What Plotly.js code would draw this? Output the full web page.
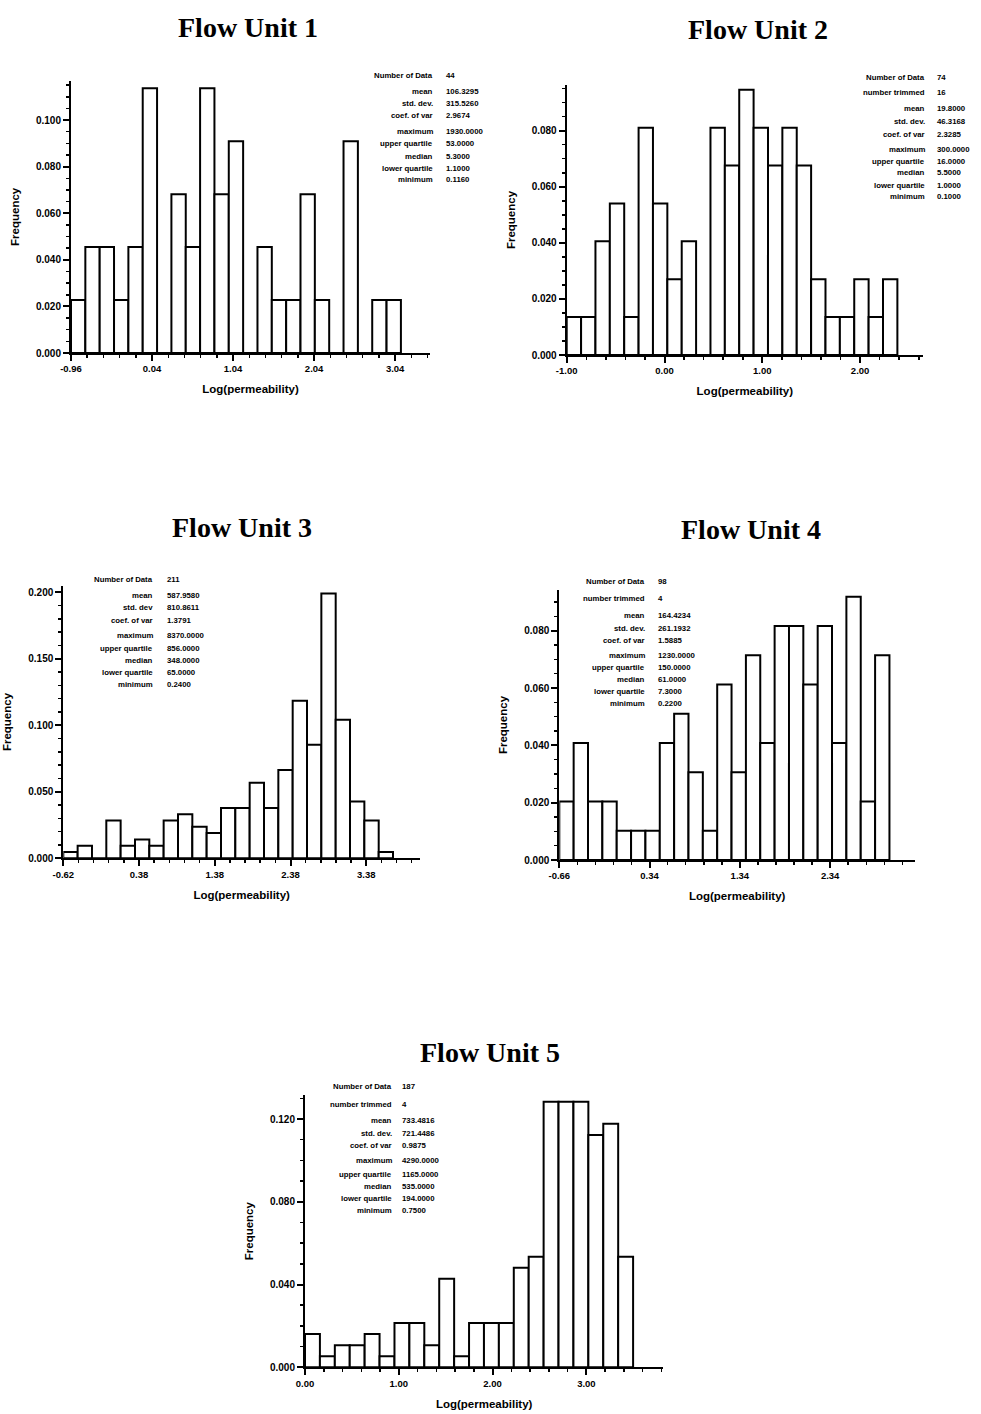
<!DOCTYPE html>
<html>
<head>
<meta charset="utf-8">
<script src="https://cdn.plot.ly/plotly-3.0.1.min.js"></script>
<style>
  html, body { margin: 0; padding: 0; background: #fff; }
  #chart { width: 981px; height: 1414px; }
</style>
</head>
<body>
<div id="chart"></div>
<script>
// ---- Data: histogram counts of log10(permeability) per flow unit ----
const unitNames = ['Flow Unit 1', 'Flow Unit 2', 'Flow Unit 3', 'Flow Unit 4', 'Flow Unit 5'];

const fu1Counts = [1, 2, 2, 1, 2, 5, 0, 3, 2, 5, 3, 4, 0, 2, 1, 1, 3, 1, 0, 4, 0, 1, 1];
const fu2Counts = [1, 1, 3, 4, 1, 6, 4, 2, 3, 0, 6, 5, 7, 6, 5, 6, 5, 2, 1, 1, 2, 1, 2];
const fu3Counts = [1, 2, 0, 6, 2, 3, 2, 6, 7, 5, 4, 8, 8, 12, 8, 14, 25, 18, 42, 22, 9, 6, 1];
const fu4Counts = [2, 4, 2, 2, 1, 1, 1, 4, 5, 3, 1, 6, 3, 7, 4, 8, 8, 6, 8, 4, 9, 2, 7];
const fu5Counts = [3, 1, 2, 2, 3, 1, 4, 4, 2, 8, 1, 4, 4, 4, 9, 10, 24, 24, 24, 21, 22, 10];

// left edge of the first class and class width (log units)
const binStart = [-0.96, -1.00, -0.62, -0.66, 0.00];
const binWidth = [0.177, 0.147, 0.1893, 0.159, 0.159];
const numberOfData = [44, 74, 211, 98, 187];

// labelled x ticks of each panel
const xTickVals1 = [-0.96, 0.04, 1.04, 2.04, 3.04];
const xTickVals2 = [-1.00, 0.00, 1.00, 2.00];
const xTickVals3 = [-0.62, 0.38, 1.38, 2.38, 3.38];
const xTickVals4 = [-0.66, 0.34, 1.34, 2.34];
const xTickVals5 = [0.00, 1.00, 2.00, 3.00];

// summary statistics printed next to each histogram
const statLabels1 = ['Number of Data', 'mean', 'std. dev.', 'coef. of var', 'maximum', 'upper quartile', 'median', 'lower quartile', 'minimum'];
const statValues1 = ['44', '106.3295', '315.5260', '2.9674', '1930.0000', '53.0000', '5.3000', '1.1000', '0.1160'];
const statLabels2 = ['Number of Data', 'number trimmed', 'mean', 'std. dev.', 'coef. of var', 'maximum', 'upper quartile', 'median', 'lower quartile', 'minimum'];
const statValues2 = ['74', '16', '19.8000', '46.3168', '2.3285', '300.0000', '16.0000', '5.5000', '1.0000', '0.1000'];
const statLabels3 = ['Number of Data', 'mean', 'std. dev', 'coef. of var', 'maximum', 'upper quartile', 'median', 'lower quartile', 'minimum'];
const statValues3 = ['211', '587.9580', '810.8611', '1.3791', '8370.0000', '856.0000', '348.0000', '65.0000', '0.2400'];
const statLabels4 = ['Number of Data', 'number trimmed', 'mean', 'std. dev.', 'coef. of var', 'maximum', 'upper quartile', 'median', 'lower quartile', 'minimum'];
const statValues4 = ['98', '4', '164.4234', '261.1932', '1.5885', '1230.0000', '150.0000', '61.0000', '7.3000', '0.2200'];
const statLabels5 = ['Number of Data', 'number trimmed', 'mean', 'std. dev.', 'coef. of var', 'maximum', 'upper quartile', 'median', 'lower quartile', 'minimum'];
const statValues5 = ['187', '4', '733.4816', '721.4486', '0.9875', '4290.0000', '1165.0000', '535.0000', '194.0000', '0.7500'];

// ---- Layout geometry (pixels in a 981 x 1414 page) ----
const W = 981, H = 1414;
const px = v => v / W;
const py = v => 1 - v / H;

const panels = [
  { counts: fu1Counts, labels: statLabels1, values: statValues1, xTicks: xTickVals1,
    xPix: [71, 430], yPix: [353, 80.7], xMax: 3.47, yMax: 0.1169, yDtick: 0.02, yMinor: 0.005,
    title: [248, 27], statRight: 435, statLeft: 444,
    statRows: [75, 91, 103, 116, 131, 143, 156, 168, 180] },
  { counts: fu2Counts, labels: statLabels2, values: statValues2, xTicks: xTickVals2,
    xPix: [566.7, 923], yPix: [355, 85], xMax: 2.643, yMax: 0.0963, yDtick: 0.02, yMinor: 0.005,
    title: [758, 30], statRight: 927, statLeft: 935,
    statRows: [77, 92, 109, 121.5, 134, 149, 161, 173, 185, 197] },
  { counts: fu3Counts, labels: statLabels3, values: statValues3, xTicks: xTickVals3,
    xPix: [63.3, 420], yPix: [858.3, 585.7], xMax: 4.09, yMax: 0.205, yDtick: 0.05, yMinor: 0.01,
    title: [242, 527], statRight: 155, statLeft: 165,
    statRows: [580, 595.7, 607.7, 620, 635.7, 648, 660, 672, 684] },
  { counts: fu4Counts, labels: statLabels4, values: statValues4, xTicks: xTickVals4,
    xPix: [559.3, 915], yPix: [860, 590], xMax: 3.28, yMax: 0.0942, yDtick: 0.02, yMinor: 0.005,
    title: [751, 530], statRight: 647, statLeft: 656,
    statRows: [581.7, 598.3, 615, 628.3, 640, 655.7, 667.7, 680, 691, 703.3] },
  { counts: fu5Counts, labels: statLabels5, values: statValues5, xTicks: xTickVals5,
    xPix: [305, 663.3], yPix: [1367.3, 1095], xMax: 3.82, yMax: 0.1316, yDtick: 0.04, yMinor: 0.01,
    title: [490, 1052], statRight: 394, statLeft: 400,
    statRows: [1086.7, 1104, 1120.7, 1133.3, 1145.7, 1160.7, 1174, 1186, 1198.3, 1210] }
];

const SANS = '"Liberation Sans", Arial, Helvetica, sans-serif';
const SERIF = '"Liberation Serif", "Times New Roman", Times, serif';
const xTickFont = { family: SANS, size: 9.5, color: '#000', weight: 'bold' };
const yTickFont = { family: SANS, size: 10, color: '#000', weight: 'bold' };
const axisTitleFont = { family: SANS, size: 11.5, color: '#000', weight: 'bold' };
const statFont = { family: SANS, size: 7.8, color: '#000', weight: 'bold' };

const traces = [];
const layout = {
  width: W, height: H,
  margin: { l: 0, r: 0, t: 0, b: 0, pad: 0 },
  paper_bgcolor: '#fff', plot_bgcolor: '#fff',
  showlegend: false, bargap: 0,
  annotations: []
};

panels.forEach((p, i) => {
  const n = i + 1;
  const xa = n === 1 ? 'x' : 'x' + n;
  const ya = n === 1 ? 'y' : 'y' + n;
  const xKey = n === 1 ? 'xaxis' : 'xaxis' + n;
  const yKey = n === 1 ? 'yaxis' : 'yaxis' + n;

  const centers = p.counts.map((c, k) => binStart[i] + binWidth[i] * (k + 0.5));
  const freq = p.counts.map(c => c / numberOfData[i]);

  traces.push({
    type: 'bar', x: centers, y: freq, width: binWidth[i],
    xaxis: xa, yaxis: ya,
    marker: { color: '#fff', line: { color: '#000', width: 2 } },
    hoverinfo: 'skip'
  });

  const common = {
    showline: true, linecolor: '#000', linewidth: 2,
    ticks: 'outside', ticklen: 6, tickwidth: 2, tickcolor: '#000',
    showgrid: false, zeroline: false, fixedrange: true
  };

  layout[xKey] = Object.assign({}, common, {
    domain: [px(p.xPix[0]), px(p.xPix[1])],
    range: [p.xTicks[0], p.xMax],
    anchor: ya,
    tickmode: 'array',
    tickvals: p.xTicks,
    ticktext: p.xTicks.map(v => v.toFixed(2)),
    tickfont: xTickFont,
    minor: { ticks: 'outside', tickmode: 'linear', tick0: p.xTicks[0], dtick: 0.2,
             ticklen: 3, tickwidth: 1.5, tickcolor: '#000', showgrid: false },
    title: { text: 'Log(permeability)', font: axisTitleFont, standoff: 12 }
  });

  layout[yKey] = Object.assign({}, common, {
    domain: [py(p.yPix[0]), py(p.yPix[1])],
    range: [0, p.yMax],
    anchor: xa,
    tickmode: 'linear', tick0: 0, dtick: p.yDtick, tickformat: '.3f',
    tickfont: yTickFont,
    minor: { ticks: 'outside', tick0: 0, dtick: p.yMinor, ticklen: 3, tickwidth: 1.5,
             tickcolor: '#000', showgrid: false },
    title: { text: 'Frequency', font: axisTitleFont, standoff: 14 }
  });

  // panel heading
  layout.annotations.push({
    xref: 'paper', yref: 'paper', x: px(p.title[0]), y: py(p.title[1]),
    xanchor: 'center', yanchor: 'middle', showarrow: false,
    text: unitNames[i],
    font: { family: SERIF, size: 28, color: '#000', weight: 'bold' }
  });

  // statistics block
  p.labels.forEach((lab, k) => {
    const yy = py(p.statRows[k]);
    layout.annotations.push({
      xref: 'paper', yref: 'paper', x: px(p.statRight), y: yy,
      xanchor: 'right', yanchor: 'middle', showarrow: false,
      text: lab, font: statFont
    });
    layout.annotations.push({
      xref: 'paper', yref: 'paper', x: px(p.statLeft), y: yy,
      xanchor: 'left', yanchor: 'middle', showarrow: false,
      text: p.values[k], font: statFont
    });
  });
});

Plotly.newPlot('chart', traces, layout, { staticPlot: true, displayModeBar: false });
</script>
</body>
</html>
